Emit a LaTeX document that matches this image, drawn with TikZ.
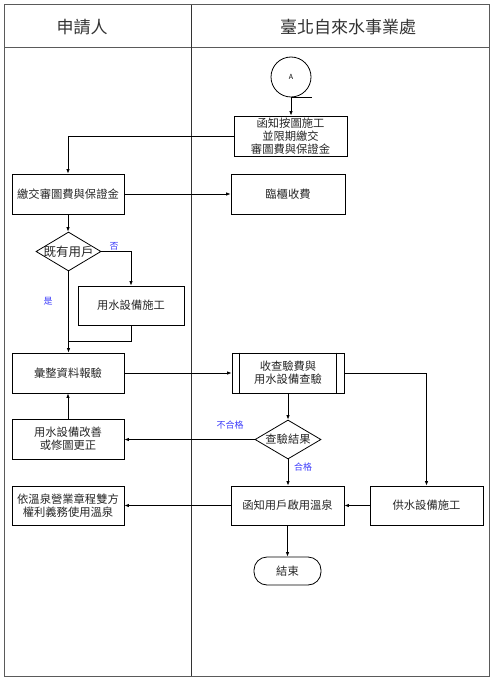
\documentclass[tikz,border=0pt]{standalone}
\usepackage{fontspec}
\setmainfont{Noto Sans CJK TC}
\usetikzlibrary{shapes.geometric,arrows.meta}
\definecolor{lblue}{RGB}{60,60,250}
\definecolor{frame}{RGB}{90,90,90}
\tikzset{
  box/.style={draw,line width=0.8pt,rectangle,inner sep=0pt,align=center,
    font=\fontsize{11.3}{13.3}\selectfont,text=black!85},
  dia/.style={draw,line width=0.8pt,diamond,inner sep=0pt},
  dtext/.style={font=\fontsize{11.3}{13.3}\selectfont,text=black!85},
  yn/.style={font=\fontsize{9}{10}\selectfont,text=lblue},
  arr/.style={line width=0.8pt,-{Latex[length=4.5pt,width=3.5pt]}},
  ln/.style={line width=0.8pt},
  head/.style={font=\fontsize{17}{19}\selectfont,text=black!80}
}
\begin{document}
\begin{tikzpicture}[x=1pt,y=-1pt]
\useasboundingbox (0,0) rectangle (493,679);
% frame
\draw[frame,line width=1pt] (4,5) rectangle (489,676);
\draw[frame,line width=1pt] (4,48) -- (489,48);
\draw[black!80,line width=1pt] (191,5) -- (191,676);
\node[head] (h1) at (82,27) {申請人};
\node[head] (h2) at (348,27) {臺北自來水事業處};
% nodes
\node[draw,circle,line width=0.8pt,minimum size=40pt,inner sep=0pt,font=\fontsize{7}{8}\selectfont] (A) at (291,77) {A};
\node[box,minimum width=113pt,minimum height=40pt] (b1) at (290.5,136) {函知按圖施工\\並限期繳交\\審圖費與保證金};
\node[box,minimum width=112pt,minimum height=40pt] (b2) at (68,194) {繳交審圖費與保證金};
\node[box,minimum width=114pt,minimum height=40pt] (b3) at (288,194) {臨櫃收費};
\node[dia,minimum width=65pt,minimum height=39pt,label={[dtext,font=\fontsize{12.5}{14}\selectfont]center:既有用戶}] (d1) at (68.5,251.5) {};
\node[box,minimum width=106pt,minimum height=39pt] (b4) at (131,305.5) {用水設備施工};
\node[box,minimum width=112pt,minimum height=40pt] (b5) at (68,373) {彙整資料報驗};
\node[box,minimum width=112pt,minimum height=40pt] (b6) at (288,373) {收查驗費與\\用水設備查驗};
\draw[ln] ([xshift=8pt]b6.north west) -- ([xshift=8pt]b6.south west);
\draw[ln] ([xshift=-8pt]b6.north east) -- ([xshift=-8pt]b6.south east);
\node[dia,minimum width=66pt,minimum height=39pt,label={[dtext]center:查驗結果}] (d2) at (288,439.5) {};
\node[box,minimum width=112pt,minimum height=40pt] (b8) at (68,439) {用水設備改善\\或修圖更正};
\node[box,minimum width=113pt,minimum height=39pt] (b7) at (426.5,505.5) {供水設備施工};
\node[box,minimum width=113pt,minimum height=39pt] (b9) at (287.5,505.5) {函知用戶啟用溫泉};
\node[box,minimum width=112pt,minimum height=39pt] (b10) at (68,505.5) {依溫泉營業章程雙方\\權利義務使用溫泉};
\node[box,minimum width=67pt,minimum height=28pt,rounded corners=13pt] (end) at (287.5,571) {結束};
% labels
\node[yn] (l1) at (114,246) {否};
\node[yn] (l2) at (48,301) {是};
\node[yn] (l3) at (230,425) {不合格};
\node[yn] (l4) at (303,467) {合格};
% connectors
\coordinate (j) at (68.5,341);
\draw[ln] (A.south) -- ++(21,0);
\draw[arr] (A.south) -- (A.south |- b1.north);
\draw[arr] (b1.west) -| (b2.north);
\draw[arr] (b2.east) -- (b3.west);
\draw[arr] (b2.south) -- (b2.south |- d1.north);
\draw[arr] (d1.east) -| (b4.north);
\draw[arr] (d1.south) -- (d1.south |- b5.north);
\draw[ln] (b4.south) |- (j);
\draw[arr] (b5.east) -- (b6.west);
\draw[arr] (b6.south) -- (d2.north);
\draw[arr] (b6.east) -| (b7.north);
\draw[arr] (d2.west) -- (d2.west -| b8.east);
\draw[arr] (b8.north) -- (b5.south);
\draw[arr] (d2.south) -- (d2.south |- b9.north);
\draw[arr] (b7.west) -- (b9.east);
\draw[arr] (b9.west) -- (b10.east);
\draw[arr] (b9.south) -- (b9.south |- end.north);
\end{tikzpicture}
\end{document}
